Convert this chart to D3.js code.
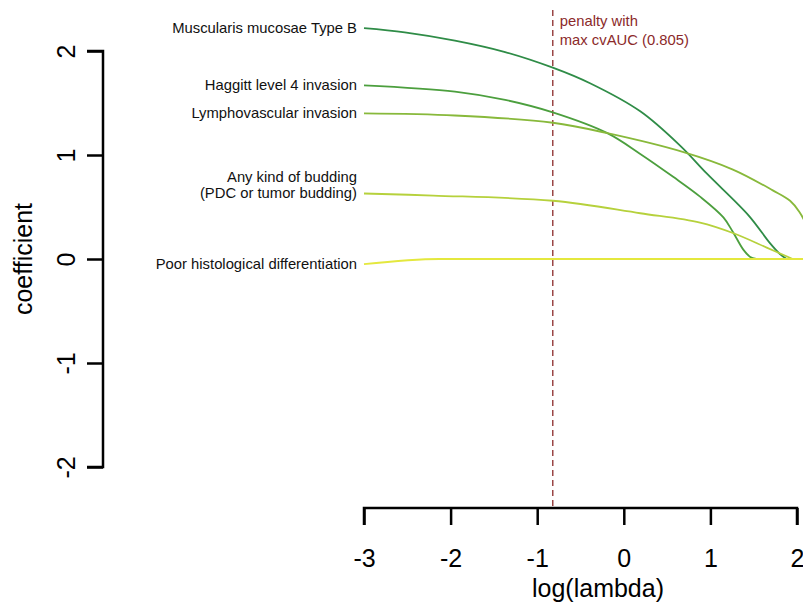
<!DOCTYPE html>
<html>
<head>
<meta charset="utf-8">
<script src="https://cdn.jsdelivr.net/npm/d3@7"></script>
<style>
  body { margin: 0; background: #fff; }
  svg { font-family: "Liberation Sans", Arial, sans-serif; }
</style>
</head>
<body>
<div id="chart"></div>
<script>
const names = [
  ["Muscularis mucosae Type B"],
  ["Haggitt level 4 invasion"],
  ["Lymphovascular invasion"],
  ["Any kind of budding", "(PDC or tumor budding)"],
  ["Poor histological differentiation"]
]
const colors = ["#2f8c47", "#4c9f3e", "#88b93b", "#b6d13c", "#e4e83e"]

// coefficient paths: [log(lambda), coefficient]
const muscularis = [[-3, 2.22], [-2.53, 2.18], [-1.95, 2.10], [-1.37, 1.99], [-0.82, 1.84], [-0.39, 1.69],
  [0.19, 1.42], [0.65, 1.09], [0.96, 0.82], [1.44, 0.42], [1.69, 0.15], [1.80, 0.05], [1.88, 0]]
const haggitt = [[-3, 1.67], [-1.95, 1.61], [-1.37, 1.53], [-0.82, 1.41], [-0.19, 1.21], [0.19, 1.01],
  [0.57, 0.79], [0.88, 0.60], [1.15, 0.40], [1.26, 0.26], [1.38, 0.09], [1.46, 0.02], [1.53, 0]]
const lymphovascular = [[-3, 1.40], [-1.95, 1.38], [-0.82, 1.31], [-0.19, 1.21], [0.68, 1.03], [1.26, 0.86],
  [1.72, 0.66], [1.92, 0.56], [2.03, 0.45], [2.15, 0.25], [2.25, 0]]
const budding = [[-3, 0.63], [-2.2, 0.61], [-0.82, 0.56], [0.19, 0.44], [0.88, 0.35], [1.26, 0.25],
  [1.65, 0.11], [1.95, 0]]
const poorDiff = [[-3, -0.05], [-2.13, 0], [2.3, 0]]
const series = [muscularis, haggitt, lymphovascular, budding, poorDiff]

const xTicks = [-3, -2, -1, 0, 1, 2]
const yTicks = [-2, -1, 0, 1, 2]
const bestLogLambda = -0.82
const bestLabel = ["penalty with", "max cvAUC (0.805)"]

const width = 803, height = 603
const fmt = d => String(d)   // plain hyphen minus, as in the original

const svg = d3.select("#chart").append("svg")
  .attr("width", width)
  .attr("height", height)

const x = d3.scaleLinear().domain([-3, 2]).range([364, 797])
const y = d3.scaleLinear().domain([-2, 2]).range([467, 51])

// x axis
const xAxis = svg.append("g")
  .attr("transform", "translate(0,508)")
  .call(d3.axisBottom(x).tickValues(xTicks).tickSize(17).tickPadding(24).tickFormat(fmt))
xAxis.select(".domain").attr("d", "M" + x(-3) + ",17V0H" + x(2) + "V17")
xAxis.selectAll("line, path").attr("stroke", "#000").attr("stroke-width", 2.5)
xAxis.selectAll("text").attr("font-size", 25).attr("fill", "#000")
  .attr("font-family", "Liberation Sans, Arial, sans-serif")

// y axis
const yAxis = svg.append("g")
  .attr("transform", "translate(103,0)")
  .call(d3.axisLeft(y).tickValues(yTicks).tickSize(16).tickFormat(fmt))
yAxis.select(".domain").attr("d", "M-16," + y(-2) + "H0V" + y(2) + "H-16")
yAxis.selectAll("line, path").attr("stroke", "#000").attr("stroke-width", 2.5)
yAxis.selectAll(".tick text")
  .attr("x", null).attr("dy", null)
  .attr("font-size", 25).attr("fill", "#000")
  .attr("font-family", "Liberation Sans, Arial, sans-serif")
  .attr("text-anchor", "middle")
  .attr("transform", "translate(-35,0) rotate(-90)")
  .attr("dominant-baseline", "middle")

svg.append("text")
  .attr("transform", "translate(32,259) rotate(-90)")
  .attr("text-anchor", "middle")
  .attr("font-size", 25)
  .text("coefficient")

// the plot region runs past the right edge, so the title sits right of the tick span's centre
svg.append("text")
  .attr("x", 598)
  .attr("y", 597)
  .attr("text-anchor", "middle")
  .attr("font-size", 25)
  .text("log(lambda)")

// penalty line
svg.append("line")
  .attr("x1", x(bestLogLambda)).attr("x2", x(bestLogLambda))
  .attr("y1", 10).attr("y2", 508)
  .attr("stroke", "#8b2a2a")
  .attr("stroke-width", 1.3)
  .attr("stroke-dasharray", "6,4")

bestLabel.forEach((t, i) => {
  svg.append("text")
    .attr("x", x(bestLogLambda) + 7)
    .attr("y", 26 + i * 19)
    .attr("font-size", 14.8)
    .attr("fill", "#8b2a2a")
    .text(t)
})

// coefficient paths
const smooth = d3.line()
  .x(d => x(d[0]))
  .y(d => y(d[1]))
  .curve(d3.curveCatmullRom.alpha(0.5))
const flat = d3.line()
  .x(d => x(d[0]))
  .y(d => y(d[1]))
  .curve(d3.curveMonotoneX)

const paths = svg.append("g")
series.forEach((s, i) => {
  paths.append("path")
    .attr("d", s === poorDiff ? flat(s) : smooth(s))
    .attr("fill", "none")
    .attr("stroke", colors[i])
    .attr("stroke-width", 1.8)
})

// labels at the left end of each path
names.forEach((lines, i) => {
  const y0 = y(series[i][0][1])
  lines.forEach((t, j) => {
    svg.append("text")
      .attr("x", 357)
      .attr("y", y0 + 5 - (lines.length - 1 - j) * 16)
      .attr("text-anchor", "end")
      .attr("font-size", 14.8)
      .attr("fill", "#111")
      .text(t)
  })
})
</script>
</body>
</html>
